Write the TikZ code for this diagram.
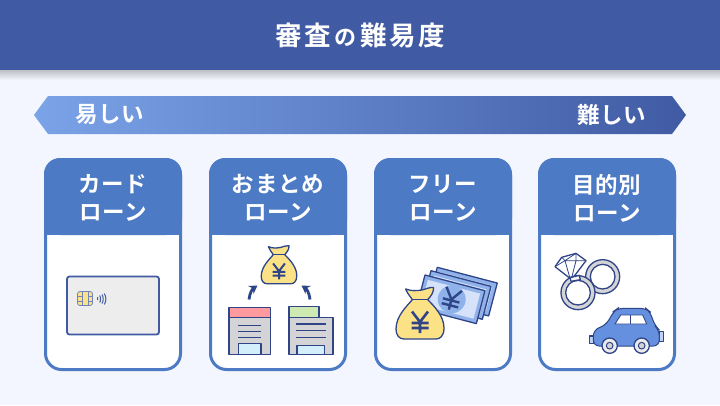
\documentclass[tikz,border=0pt]{standalone}
\usepackage{fontspec}
\usetikzlibrary{arrows.meta}
\newfontfamily\jptitle[LetterSpace=10,UprightFont={* Bold}]{Noto Sans CJK JP}
\newfontfamily\jplabel[LetterSpace=3,UprightFont={* Bold}]{Noto Sans CJK JP}
\definecolor{bgc}{HTML}{F3F6FE}
\definecolor{headc}{HTML}{405BA3}
\definecolor{cardc}{HTML}{4C7AC4}
\definecolor{navy}{HTML}{2F4587}
\definecolor{bagc}{HTML}{FBE286}
\definecolor{grayc}{HTML}{D4D4D6}
\definecolor{carc}{HTML}{6590E0}
\definecolor{noteo}{HTML}{90B2EA}
\definecolor{notei}{HTML}{D5E2F9}
\definecolor{scalea}{HTML}{7BA3E8}
\definecolor{scaleb}{HTML}{6088CE}
\definecolor{redc}{HTML}{FF9A9E}
\definecolor{greenc}{HTML}{CFE9B3}
\definecolor{doorc}{HTML}{D3EFFC}
\tikzset{
  x=1pt,y=-1pt,
  ink/.style={draw=navy,line width=1.3pt,line join=round},
  cardtitle/.style={font=\jplabel\fontsize{22.5}{28}\selectfont,text=white,align=center,inner sep=0pt},
  scalelabel/.style={font=\jplabel\fontsize{22.5}{26}\selectfont,text=white,inner sep=0pt},
  pics/yensign/.style={code={
    \draw[navy,line width=#1,line cap=butt] (-8,-10) -- (0,1) -- (8,-10) (0,1) -- (0,11.5) (-8.5,2) -- (8.5,2) (-8.5,7) -- (8.5,7);
  }},
  pics/moneybag/.style={code={
    \draw[ink,fill=bagc] (-14.3,1) .. controls (-9,3) and (-4,3) .. (2,2) .. controls (6,1) and (10,-1) .. (13.5,-0.5)
      .. controls (14,4) and (11,8) .. (7.7,11.7) .. controls (14,18) and (24,28) .. (24,40)
      .. controls (24,48) and (20,51) .. (16,51) -- (-16,51) .. controls (-21,51) and (-24,47) .. (-24,41)
      .. controls (-24,28) and (-13,18) .. (-7.7,11.7) .. controls (-10,8) and (-13,5) .. (-14.3,1) -- cycle;
    \draw[navy,line width=1pt] (-7,11.7) -- (7,11.7);
    \draw[navy,line width=#1] (-8,23.5) -- (0,34) -- (8,23.5) (0,34) -- (0,45) (-8.5,35) -- (8.5,35) (-8.5,40) -- (8.5,40);
  }},
}
\newcommand{\cardframe}[1]{
  \begin{scope}[shift={(#1,0)}]
    \fill[white,rounded corners=16pt] (1.5,159.5) rectangle (136.5,369.5);
    \fill[cardc,rounded corners=16pt] (0,235) -- (0,158) -- (138,158) -- (138,235) -- cycle;
    \fill[cardc] (0,200) rectangle (138,235);
    \draw[cardc,line width=3pt,rounded corners=16pt] (1.5,159.5) rectangle (136.5,369.5);
  \end{scope}
}
\newcommand{\banknote}[2]{
  \begin{scope}[shift={(#1,#2)},rotate=-14.7]
    \draw[ink,fill=noteo] (0,0) rectangle (62,34);
    \fill[notei] (4,4) rectangle (58,30);
  \end{scope}
}
\begin{document}
\begin{tikzpicture}
\useasboundingbox (0,0) rectangle (720,405);
\fill[bgc] (0,0) rectangle (720,405);
\shade[top color=black!22!bgc,bottom color=bgc] (0,70) rectangle (720,80);
\fill[headc] (0,0) rectangle (720,70);
\node[font=\jptitle\fontsize{26.5}{26.5}\selectfont,text=white,inner sep=0pt] (title) at (360,36) {審査{\fontsize{22}{22}\selectfont\,の\,}難易度};
% scale
\shade[left color=scalea,middle color=scaleb,right color=headc] (34,115) -- (48,96) -- (672,96) -- (686,115) -- (672,134) -- (48,134) -- cycle;
\node[scalelabel] (easy) at (110,115) {易しい};
\node[scalelabel] (hard) at (612,115) {難しい};
% cards
\cardframe{44}\cardframe{209}\cardframe{374}\cardframe{538}
\node[cardtitle] (c1) at (113,198) {カード\\ローン};
\node[cardtitle] (c2) at (278,198) {おまとめ\\ローン};
\node[cardtitle] (c3) at (443,198) {フリー\\ローン};
\node[cardtitle] (c4) at (607,198) {目的別\\ローン};
% credit card
\draw[draw=headc,line width=1.8pt,fill=black!7,rounded corners=2.5pt] (67,276.5) rectangle (159,334.5);
\draw[draw=headc!75,line width=0.8pt,fill=bagc,rounded corners=2.5pt] (77.5,291.5) rectangle (92.5,305.5);
\draw[headc!75,line width=0.8pt] (77.5,296) -- (82,296) (77.5,301) -- (82,301) (88,296) -- (92.5,296) (88,301) -- (92.5,301) (82,291.5) -- (82,305.5) (88,291.5) -- (88,305.5);
\draw[headc,line width=1pt] (97.5,297) -- (97.5,300) (99.7,295.5) .. controls (100.8,297) and (100.8,301) .. (99.7,302.5) (102,294.5) .. controls (103.6,297) and (103.6,301) .. (102,303.5) (104.3,293.5) .. controls (106.4,297) and (106.4,301) .. (104.3,304.5);
% consolidation
\pic[scale=0.74] at (279,246) {moneybag=2pt};
\coordinate (la) at (249,299.5); \coordinate (lb) at (257.5,285.5);
\coordinate (ra) at (310,299.5); \coordinate (rb) at (301.5,285.5);
\draw[navy,line width=2.8pt,-{Stealth[length=8pt,width=9.5pt]}] (la) to[bend left=25] (lb);
\draw[navy,line width=2.8pt,-{Stealth[length=8pt,width=9.5pt]}] (ra) to[bend right=25] (rb);
\draw[ink,fill=grayc] (229,317.3) rectangle (270.3,354.3);
\draw[ink,fill=redc] (229,307.3) rectangle (270.3,317.3);
\draw[ink,fill=doorc] (238.3,343.7) rectangle (261,354.3);
\draw[navy,line width=1.2pt] (238,325.7) -- (261,325.7) (238,331.7) -- (261,331.7) (238,337.7) -- (261,337.7);
\draw[ink,fill=greenc] (289,306.7) rectangle (319,317.3);
\draw[ink,fill=grayc] (289,317.3) rectangle (333,354.3);
\draw[ink,fill=doorc] (297,345.3) rectangle (324.3,354.3);
\draw[navy,line width=1.2pt] (296,324) -- (325.7,324) (296,330.7) -- (325.7,330.7) (296,337.3) -- (325.7,337.3);
% free loan
\banknote{437.3}{267.3}
\banknote{431}{270.7}
\banknote{425}{275}
\fill[noteo] (451.7,299.3) circle[radius=14];
\pic[rotate=-14.7] at (451.7,298.5) {yensign=2.4pt};
\pic at (420,288) {moneybag=2.6pt};
% purpose
\begin{scope}[shift={(540,240)},scale=1/3]
  \draw[ink,fill=grayc,even odd rule] (188,110) circle[radius=51] (188,110) circle[radius=37];
  \draw[ink,fill=white] (45,80) -- (65,52) -- (108,40) -- (138,62) -- (100,112) -- (90,115) -- cycle;
  \draw[navy,line width=0.8pt] (45,80) -- (75,62) -- (108,40) (75,62) -- (138,62) (75,62) -- (90,115) (108,62) -- (95,113) (65,52) -- (75,62) (108,62) -- (108,40);
  \draw[ink,fill=grayc,even odd rule] (114,158) circle[radius=51] (114,158) circle[radius=37];
  \draw[ink,fill=black!4] (90,113) -- (118,106) -- (121,119) -- (93,124) -- cycle;
  \draw[ink,fill=carc!40] (148,288) rectangle (160,310);
  \draw[ink,fill=carc!40] (358,275) rectangle (370,305);
  \draw[draw=navy,line width=1pt,line join=round,fill=carc,rounded corners=6pt] (160,318) -- (160,270) -- (198,255) -- (222,213) -- (233,205) -- (318,205) -- (330,215) -- (345,258) -- (358,270) -- (358,318) -- cycle;
  \draw[draw=navy,line width=0.9pt,fill=white,line join=round] (225,252) -- (242,225) -- (308,225) -- (320,252) -- cycle;
  \draw[navy,line width=0.9pt] (272,225) -- (272,252);
  \foreach \wx in {209,305} {
    \draw[ink,fill=black!8] (\wx,317) circle[radius=23];
    \draw[draw=navy,line width=1pt,fill=grayc] (\wx,317) circle[radius=10];
  }
\end{scope}
\end{tikzpicture}
\end{document}
